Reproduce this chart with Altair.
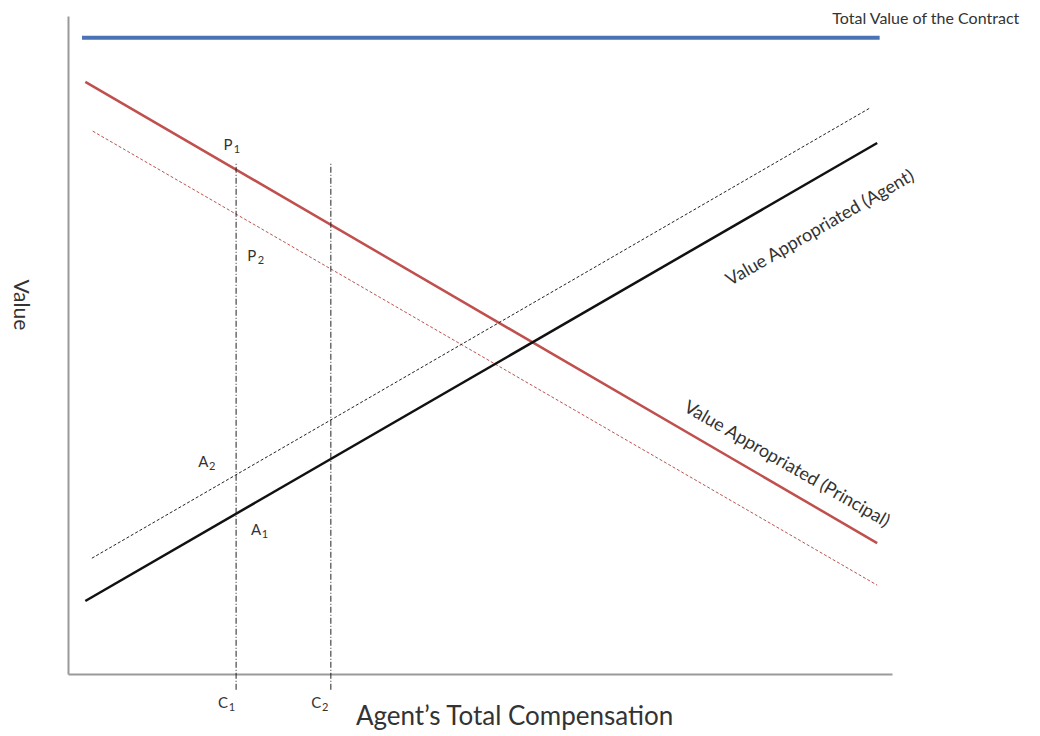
import altair as alt
import pandas as pd

FONT = "Lato"

# Diagram units: the axes box runs 0..100 on both axes
total_x = [1.7, 98.5]
total_y = [96.7, 96.7]
principal_x = [2.1, 98.2]
principal_y = [90.0, 19.9]
principal2_x = [3.0, 98.2]
principal2_y = [82.5, 13.5]
agent_x = [2.1, 98.2]
agent_y = [11.1, 80.7]
agent2_x = [2.9, 97.3]
agent2_y = [17.6, 86.0]
comp_x = [20.4, 31.9]
comp_top = [77.7, 77.7]
comp_bottom = [-2.4, -2.4]

point_letters = ["P", "P", "A", "A", "C", "C"]
point_subs = ["1", "2", "2", "1", "1", "2"]
point_x = [19.9, 22.8, 16.9, 23.3, 19.3, 30.6]
point_y = [80.4, 63.5, 32.2, 21.9, -4.4, -4.4]

line_labels = ["Value Appropriated (Agent)", "Value Appropriated (Principal)"]
line_label_x = [91.3, 87.2]
line_label_y = [67.7, 31.8]

top_label = "Total Value of the Contract"
top_label_x = [104.1]
top_label_y = [99.6]
x_title = "Agent\u2019s Total Compensation"
x_title_x = [54.2]
x_title_y = [-6.5]
y_title = "Value"
y_title_x = [-5.8]
y_title_y = [56.1]

xs = alt.Scale(domain=[0, 100], nice=False, zero=False)
ys = alt.Scale(domain=[0, 100], nice=False, zero=False)
AX = dict(domain=True, domainColor="#9a9a9a", domainWidth=2, ticks=False, labels=False,
          grid=False, title=None)


def X():
    return alt.X("x:Q", scale=xs, axis=alt.Axis(**AX))


def Y():
    return alt.Y("y:Q", scale=ys, axis=alt.Axis(**AX))


def seg(xv, yv):
    return pd.DataFrame({"x": xv, "y": yv})


total = alt.Chart(seg(total_x, total_y)).mark_line(color="#4a72b5", strokeWidth=4).encode(x=X(), y=Y())
principal = alt.Chart(seg(principal_x, principal_y)).mark_line(color="#c0504d", strokeWidth=2.5).encode(x=X(), y=Y())
principal2 = alt.Chart(seg(principal2_x, principal2_y)).mark_line(
    color="#b85450", strokeWidth=1, strokeDash=[3, 2]).encode(x=X(), y=Y())
agent = alt.Chart(seg(agent_x, agent_y)).mark_line(color="#111111", strokeWidth=2.5).encode(x=X(), y=Y())
agent2 = alt.Chart(seg(agent2_x, agent2_y)).mark_line(
    color="#222222", strokeWidth=1, strokeDash=[3, 2]).encode(x=X(), y=Y())

comp_df = pd.DataFrame({"x": comp_x, "y": comp_bottom, "y2": comp_top})
comp = alt.Chart(comp_df).mark_rule(color="#222222", strokeWidth=1, strokeDash=[6, 2, 1, 2]).encode(
    x=X(), y=Y(), y2="y2:Q")

pts = pd.DataFrame({"l": point_letters, "s": point_subs, "x": point_x, "y": point_y})
letters = alt.Chart(pts).mark_text(font=FONT, fontSize=15, color="#333333", dx=-4).encode(
    x=X(), y=Y(), text="l:N")
subs = alt.Chart(pts).mark_text(font=FONT, fontSize=11, color="#333333", dx=5, dy=5).encode(
    x=X(), y=Y(), text="s:N")

ll = pd.DataFrame({"t": line_labels, "x": line_label_x, "y": line_label_y})
lab1 = alt.Chart(ll.iloc[[0]]).mark_text(font=FONT, fontSize=18, color="#333333", angle=330).encode(
    x=X(), y=Y(), text="t:N")
lab2 = alt.Chart(ll.iloc[[1]]).mark_text(font=FONT, fontSize=18, color="#333333", angle=30).encode(
    x=X(), y=Y(), text="t:N")

top = alt.Chart(pd.DataFrame({"t": [top_label], "x": top_label_x, "y": top_label_y})).mark_text(
    font=FONT, fontSize=16, color="#333333").encode(x=X(), y=Y(), text="t:N")
xt = alt.Chart(pd.DataFrame({"t": [x_title], "x": x_title_x, "y": x_title_y})).mark_text(
    font=FONT, fontSize=26, color="#333333").encode(x=X(), y=Y(), text="t:N")
yt = alt.Chart(pd.DataFrame({"t": [y_title], "x": y_title_x, "y": y_title_y})).mark_text(
    font=FONT, fontSize=21, color="#333333", angle=90).encode(x=X(), y=Y(), text="t:N")

chart = alt.layer(total, principal, principal2, agent, agent2, comp, letters, subs,
                  lab1, lab2, top, xt, yt).properties(
    width=824, height=658,
    background="white",
    autosize=alt.AutoSizeParams(type="none"),
    padding={"left": 60, "top": 8, "right": 140, "bottom": 62},
).configure_view(strokeWidth=0, stroke="transparent")

chart.save("out.html", embed_options={"renderer": "svg", "actions": False})
